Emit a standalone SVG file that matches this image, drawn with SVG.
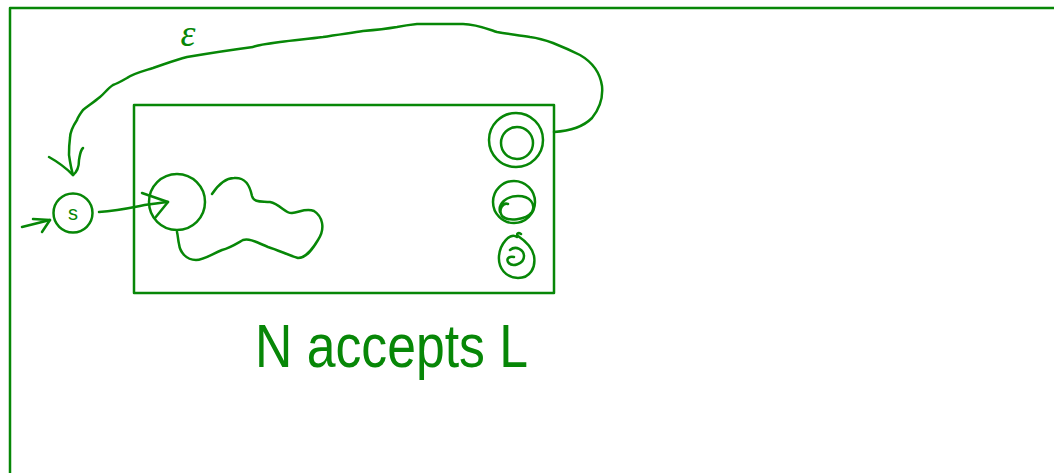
<svg xmlns="http://www.w3.org/2000/svg" width="1054" height="473" viewBox="0 0 1054 473">
<style>
.ink{fill:none;stroke:#078707;stroke-width:2.5;stroke-linecap:round;stroke-linejoin:round}
.txt{fill:#078707;font-family:"Liberation Sans",Arial,sans-serif}
</style>
<rect width="1054" height="473" fill="#ffffff"/>
<g id="frame">
<path class="ink" d="M10,473 L10,8 L1054,8"/>
</g>
<g id="nfa-box">
<rect class="ink" x="134" y="105" width="420" height="188"/>
</g>
<g id="node-s">
<circle class="ink" cx="73" cy="213" r="19.5"/>
<text class="txt" x="73" y="220" font-size="20" text-anchor="middle">s</text>
</g>
<g id="node-start">
<circle class="ink" cx="177" cy="202" r="28"/>
</g>
<g id="blob">
<path class="ink" d="M212,194 C218,185 226,178 234,178 C246,177 250,186 252,196 C254,203 262,201 270,202 C280,204 286,214 292,213 C300,212 306,208 314,211 C322,216 326,228 318,240 C312,250 306,258 298,258 C288,255 278,250 268,247 C258,243 250,238 243,240 C236,244 230,248 222,250 C212,254 204,260 196,260 C186,260 180,252 179,244 C178,240 178,236 177,232"/>
</g>
<g id="accept-1">
<circle class="ink" cx="516" cy="140" r="27"/>
<circle class="ink" cx="517" cy="143" r="16"/>
</g>
<g id="accept-2">
<circle class="ink" cx="514" cy="202" r="21"/>
<path class="ink" d="M508,204 C503,202 498,210 502,216 C508,222 526,220 532,212 C536,204 530,196 518,196 C506,196 498,204 500,212"/>
</g>
<g id="accept-3">
<path class="ink" d="M517,237 C510,232 500,244 499,256 C498,268 506,278 518,278 C530,278 536,268 534,256 C532,246 524,240 518,236 C516,234 518,232 521,234"/>
<path class="ink" d="M510,250 C516,245 524,250 524,256 C524,264 512,268 508,262 C506,258 510,256 514,257"/>
</g>
<g id="connectors">
<path class="ink" d="M22,227 L50,220"/>
<path class="ink" d="M33,219 L50,220 L42,232"/>
<path class="ink" d="M99,212 C115,211 125,209 140,206 C150,204 160,203 168,202"/>
<path class="ink" d="M142,193 L168,202 L155,218"/>
<path class="ink" d="M554,132 C570,131 584,126 592,118 C600,108 603,96 602,86 C600,72 592,62 580,55 C570,50 563,47 553,43 C545,40 538,38 530,37 C518,35 508,34 497,32 C485,28 475,24 463,24 C448,24 430,24 417,24 C408,25 402,26 397,27 C385,29 375,30 363,31 C350,33 335,35 323,37 C308,39 295,40 280,42 C265,44 255,46 253,47 C230,50 205,54 187,57 C175,60 165,64 153,68 C140,72 132,74 127,78 C120,82 116,84 113,85 C108,88 104,94 100,97 C94,102 88,106 83,110 C80,114 78,117 77,120 C73,126 70,132 70,138 C69,145 69,150 69,155 C70,162 71,168 73,175"/>
<path class="ink" d="M49,157 C58,162 66,168 73,175 C77,172 79,166 79,160 C80,155 80,151 83,148"/>
</g>
<g id="labels">
<text class="txt" x="188" y="46" font-size="38" font-style="italic" text-anchor="middle" style="font-family:'Liberation Serif',serif">ε</text>
<text class="txt" x="255" y="367" font-size="62" textLength="273" lengthAdjust="spacingAndGlyphs">N accepts L</text>
</g>
</svg>
